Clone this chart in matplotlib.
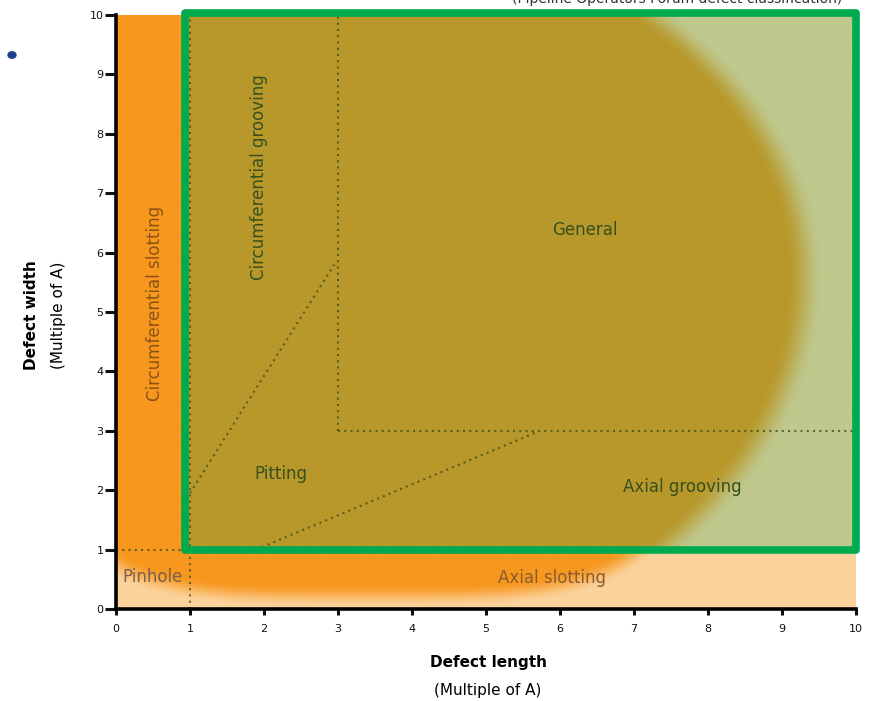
import matplotlib
matplotlib.use('Agg')
import matplotlib.pyplot as plt
import numpy as np
from matplotlib.patches import Rectangle, Circle

# defect classes and where their names sit (multiples of A)
regions = ['General', 'Pitting', 'Axial grooving', 'Circumferential grooving',
           'Circumferential slotting', 'Pinhole', 'Axial slotting']
region_x = [6.34, 2.23, 7.65, 1.93, 0.53, 0.50, 5.89]
region_y = [6.38, 2.27, 2.05, 7.27, 5.15, 0.54, 0.52]
region_rot = [0, 0, 0, 90, 90, 0, 0]
region_col = ['#36501e', '#36501e', '#36501e', '#36501e', '#8a5214', '#7a6048', '#8a5a30']

# dotted class boundaries
bound_x = [[3, 3], [3, 10], [1, 2.95], [1.97, 5.69], [0, 1], [1, 1]]
bound_y = [[3, 10], [3, 3], [1.95, 5.8], [1.04, 2.98], [1, 1], [0, 10]]

# green box (x0, y0, x1, y1)
box = [0.93, 0.99, 10.0, 10.03]

ticks = list(range(0, 11))

orange = np.array([247, 151, 30]) / 255
peach = np.array([252, 210, 156]) / 255
gold = np.array([184, 152, 42]) / 255
pale = np.array([191, 200, 141]) / 255


def smooth(e0, e1, v):
    t = np.clip((v - e0) / (e1 - e0), 0, 1)
    return t * t * (3 - 2 * t)


# soft shaded background
n = 700
gx = np.linspace(0, 10, n)
X, Y = np.meshgrid(gx, gx)
ro = ((np.abs(X - 3.4) / 4.54) ** 4 + (np.abs(Y - 6.0) / 5.8) ** 4) ** 0.25
mo = 1 - smooth(0.965, 1.03, ro)
bg = peach[None, None, :] * (1 - mo[..., None]) + orange[None, None, :] * mo[..., None]
b = np.where(Y > 5.6, 6.3, 6.8)
rg = np.sqrt(((X - 2.0) / 7.32) ** 2 + ((Y - 5.6) / b) ** 2)
mg = 1 - smooth(0.965, 1.035, rg)
inner = pale[None, None, :] * (1 - mg[..., None]) + gold[None, None, :] * mg[..., None]
inbox = (X >= box[0]) & (Y >= box[1])
bg[inbox] = inner[inbox]

fig = plt.figure(figsize=(8.73, 7.01), dpi=100)
ax = fig.add_axes([116 / 873, 1 - 609 / 701, 740 / 873, 594 / 701])
ax.imshow(bg, extent=[0, 10, 0, 10], origin='lower', aspect='auto', zorder=0,
          interpolation='bilinear')

for xs, ys in zip(bound_x, bound_y):
    ax.plot(xs, ys, color='#3a4a1a', alpha=0.75, lw=1.5, ls=(0, (1, 2)), zorder=2)

ax.add_patch(Rectangle((box[0], box[1]), box[2] - box[0], box[3] - box[1],
                       fill=False, ec='#00aa4f', lw=5.5, joinstyle='round',
                       zorder=3, clip_on=False))

for name, x, y, r, c in zip(regions, region_x, region_y, region_rot, region_col):
    ax.text(x, y, name, rotation=r, ha='center', va='center', fontsize=12,
            color=c, zorder=4)

ax.set_xlim(0, 10)
ax.set_ylim(0, 10)
ax.set_xticks(ticks)
ax.set_yticks(ticks)
ax.spines['top'].set_visible(False)
ax.spines['right'].set_visible(False)
for s in ['left', 'bottom']:
    ax.spines[s].set_linewidth(2.6)
ax.tick_params(axis='x', length=4.5, width=2.2, labelsize=8, pad=6, colors='#111111')
ax.tick_params(axis='y', length=8, width=2.2, labelsize=8, pad=1, colors='#111111')

fig.text(488 / 873, 1 - 663 / 701, 'Defect length', ha='center', va='center',
         fontsize=11, fontweight='bold')
fig.text(488 / 873, 1 - 690 / 701, '(Multiple of A)', ha='center', va='center',
         fontsize=11)
fig.text(32 / 873, 1 - 315 / 701, 'Defect width', ha='center', va='center',
         fontsize=11, fontweight='bold', rotation=90)
fig.text(58 / 873, 1 - 315 / 701, '(Multiple of A)', ha='center', va='center',
         fontsize=11, rotation=90)

# caption running off the top edge, as in the source crop
fig.text(677 / 873, 1 - 3 / 701, '(Pipeline Operators Forum defect classification)',
         ha='center', va='baseline', fontsize=10, color='#333333')

fig.add_artist(Circle((12 / 873, 1 - 55 / 701), 4 / 873, transform=fig.transFigure,
                      color='#1f3f8f'))

plt.savefig('out.png', dpi=100)
